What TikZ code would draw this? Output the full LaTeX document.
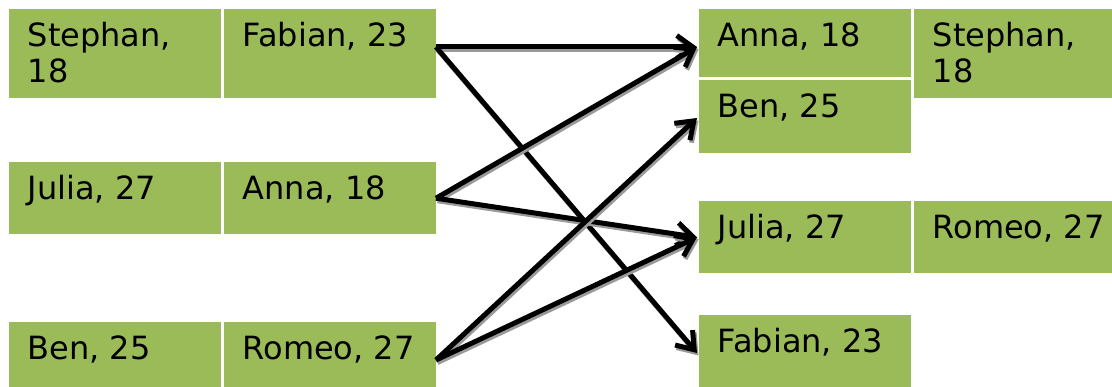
\documentclass[tikz,border=0pt]{standalone}
\usepackage{fontspec}
\setmainfont{DejaVu Sans}
\usetikzlibrary{arrows.meta}
\definecolor{cellgreen}{HTML}{9BBB59}
\definecolor{shade}{HTML}{9A9A9A}
\tikzset{
  cellbox/.style={shape=rectangle, fill=cellgreen, draw=none, inner sep=0pt,
    outer sep=0pt, anchor=north west},
  celltext/.style={anchor=base west, inner sep=0pt,
    font=\fontsize{32}{36}\selectfont},
  link/.style={line width=5pt, draw=black,
    -{Straight Barb[length=16pt,width=23pt]}},
  linkshadow/.style={link, draw=shade}
}
% \cell{name}{x}{y}{width}{height}{text}
\newcommand\cell[6]{%
  \node[cellbox, minimum width=#4pt, minimum height=#5pt] (#1) at (#2,#3) {};
  \node[celltext] (#1-text) at ([xshift=18.5pt,yshift=-38pt]#1.north west)
    {\parbox[t]{190pt}{\raggedright #6}};
}
% \connect{start}{end}: black connector over its grey drop shadow
\newcommand\connect[2]{%
  \draw[linkshadow] ([shift={(1.5pt,-2.5pt)}]#1) -- ([shift={(1.5pt,-2.5pt)}]#2);
  \draw[link] (#1) -- (#2);
}
\begin{document}
\begin{tikzpicture}[x=1pt,y=-1pt]
  \useasboundingbox (0,0) rectangle (1112,387);
  % left table
  \cell{stephanL}{9}{9}{212}{89}{Stephan,\\18}
  \cell{fabianL}{224}{9}{212}{89}{Fabian, 23}
  \cell{juliaL}{9}{162}{212}{72.5}{Julia, 27}
  \cell{annaL}{224}{162}{212}{72.5}{Anna, 18}
  \cell{benL}{9}{322}{212}{76}{Ben, 25}
  \cell{romeoL}{224}{322}{212}{76}{Romeo, 27}
  % right table
  \cell{annaR}{699}{9}{212}{68.5}{Anna, 18}
  \cell{benR}{699}{80}{212}{73}{Ben, 25}
  \cell{stephanR}{914}{9}{212}{89}{Stephan,\\18}
  \cell{juliaR}{699}{201}{212}{72.5}{Julia, 27}
  \cell{romeoR}{914}{201}{212}{72.5}{Romeo, 27}
  \cell{fabianR}{699}{315}{212}{76}{Fabian, 23}
  % anchor points of the connectors
  \coordinate (fabOut) at ([yshift=6.5pt]fabianL.east);
  \coordinate (annaIn) at ([xshift=-2pt,yshift=-3.75pt]annaR.west);
  \coordinate (benIn) at ([xshift=-2pt,yshift=-1.5pt]benR.west);
  \coordinate (juliaIn) at ([xshift=-2pt]juliaR.west);
  \coordinate (fabIn) at ([xshift=-2pt]fabianR.west);
  % connectors
  \connect{fabOut}{annaIn}
  \connect{fabOut}{fabIn}
  \connect{annaL.east}{annaIn}
  \connect{annaL.east}{juliaIn}
  \connect{romeoL.east}{benIn}
  \connect{romeoL.east}{juliaIn}
\end{tikzpicture}
\end{document}
